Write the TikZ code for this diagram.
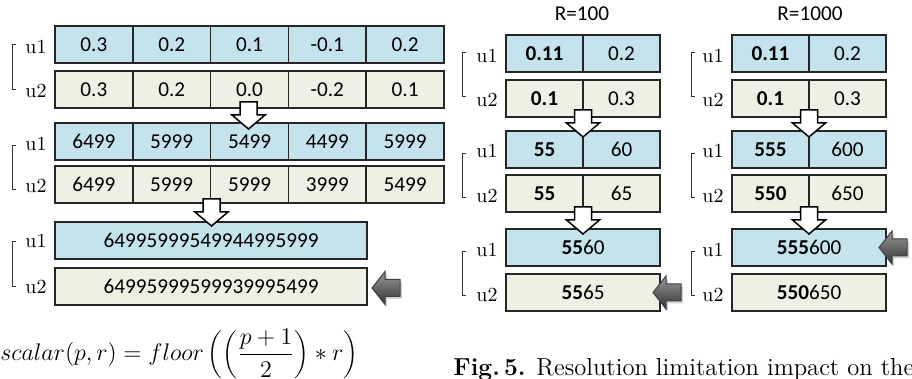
\documentclass[tikz,border=0pt]{standalone}
\usepackage{fontspec}
\newfontfamily\carl{Carlito}
\usetikzlibrary{calc}
\definecolor{cblue}{RGB}{197,227,236}
\definecolor{cbeige}{RGB}{237,241,228}
\tikzset{
  cell/.style={draw=black!85, line width=0.8pt, inner sep=0pt, outer sep=0pt,
    minimum height=18.5pt, font=\carl\fontsize{10.6}{12}\selectfont},
  cb/.style={cell, fill=cblue},
  cy/.style={cell, fill=cbeige},
  lab/.style={font=\fontsize{10}{11}\selectfont, inner sep=0pt, anchor=east},
  brk/.style={line width=0.5pt, draw=black!80},
  warrow/.pic={
    \draw[fill=white, draw=black, line width=0.75pt, line join=miter]
      (0,0) -- (-16.5,-14) -- (-8.5,-14) -- (-8.5,-27) -- (8.5,-27)
      -- (8.5,-14) -- (16.5,-14) -- cycle;
  },
  garrow/.pic={
    \fill[black!35, opacity=0.5, shift={(2,2.5)}]
      (0,0) -- (13,-16.5) -- (13,-8.5) -- (28,-8.5) -- (28,8.5)
      -- (13,8.5) -- (13,16.5) -- cycle;
    \draw[draw=black!75, line width=0.5pt, top color=black!40, bottom color=black!80]
      (0,0) -- (13,-16.5) -- (13,-8.5) -- (28,-8.5) -- (28,8.5)
      -- (13,8.5) -- (13,16.5) -- cycle;
  }
}
\begin{document}
\begin{tikzpicture}[x=0.5pt, y=-0.5pt]
\useasboundingbox (0,0) rectangle (912,379);

% ---------- left panel ----------
\foreach \v [count=\i] in {0.3,0.2,0.1,-0.1,0.2}
  \node[cb, minimum width=38.9pt] (a1\i) at ({55+77.8*(\i-0.5)},44.5) {\v};
\foreach \v [count=\i] in {0.3,0.2,0.0,-0.2,0.1}
  \node[cy, minimum width=38.9pt] (a2\i) at ({55+77.8*(\i-0.5)},89.5) {\v};
\foreach \v [count=\i] in {6499,5999,5499,4499,5999}
  \node[cb, minimum width=38.9pt] (a3\i) at ({55+77.8*(\i-0.5)},141.5) {\v};
\foreach \v [count=\i] in {6499,5999,5999,3999,5499}
  \node[cy, minimum width=38.9pt] (a4\i) at ({55+77.8*(\i-0.5)},184.5) {\v};
\node[cb, minimum width=156pt] (a5) at (211,240.5) {64995999549944995999};
\node[cy, minimum width=156pt] (a6) at (211,286.5) {64995999599939995499};

\node[lab] (la1) at (47,47) {u1};
\node[lab] (la2) at (47,91) {u2};
\node[lab] (la3) at (47,144) {u1};
\node[lab] (la4) at (47,186) {u2};
\node[lab] (la5) at (47,241) {u1};
\node[lab] (la6) at (47,287) {u2};
\draw[brk] (16,45) -- (12,45) -- (12,90) -- (16,90);
\draw[brk] (16,146) -- (12,146) -- (12,190) -- (16,190);
\draw[brk] (16,242) -- (12,242) -- (12,287) -- (16,287);

\coordinate (wa1) at (248.5,129);
\coordinate (wa2) at (211.5,226);
\pic at (wa1) {warrow};
\pic at (wa2) {warrow};
\coordinate (ga1) at (372,288);
\pic at (ga1) {garrow};

% ---------- right panel, R=100 ----------
\node[font=\carl\fontsize{10.6}{12}\selectfont, inner sep=0pt] (r100) at (582,14) {R=100};
\node[font=\carl\fontsize{10.6}{12}\selectfont, inner sep=0pt] (r1000) at (810,14) {R=1000};

\node[cb, minimum width=38.5pt] (b11) at (544.5,53.5) {\textbf{0.11}};
\node[cb, minimum width=38.5pt] (b12) at (621.5,53.5) {0.2};
\node[cy, minimum width=38.5pt] (b21) at (544.5,98.5) {\textbf{0.1}};
\node[cy, minimum width=38.5pt] (b22) at (621.5,98.5) {0.3};
\node[cb, minimum width=38.5pt] (b31) at (544.5,149.5) {\textbf{55}};
\node[cb, minimum width=38.5pt] (b32) at (621.5,149.5) {60};
\node[cy, minimum width=38.5pt] (b41) at (544.5,193.5) {\textbf{55}};
\node[cy, minimum width=38.5pt] (b42) at (621.5,193.5) {65};
\node[cb, minimum width=77pt] (b5) at (583,247.5) {\textbf{55}60};
\node[cy, minimum width=77pt] (b6) at (583,292.5) {\textbf{55}65};

\node[lab] (lb1) at (498,56) {u1};
\node[lab] (lb2) at (498,100) {u2};
\node[lab] (lb3) at (498,151) {u1};
\node[lab] (lb4) at (498,196) {u2};
\node[lab] (lb5) at (498,250) {u1};
\node[lab] (lb6) at (498,295) {u2};
\draw[brk] (466,53) -- (462,53) -- (462,97) -- (466,97);
\draw[brk] (466,154) -- (462,154) -- (462,198) -- (466,198);
\draw[brk] (466,252) -- (462,252) -- (462,296) -- (466,296);

\coordinate (wb1) at (583,137);
\coordinate (wb2) at (583,234);
\pic at (wb1) {warrow};
\pic at (wb2) {warrow};
\coordinate (gb1) at (653,292.5);
\pic at (gb1) {garrow};

% ---------- right panel, R=1000 ----------
\node[cb, minimum width=38.5pt] (c11) at (770.5,53.5) {\textbf{0.11}};
\node[cb, minimum width=38.5pt] (c12) at (847.5,53.5) {0.2};
\node[cy, minimum width=38.5pt] (c21) at (770.5,98.5) {\textbf{0.1}};
\node[cy, minimum width=38.5pt] (c22) at (847.5,98.5) {0.3};
\node[cb, minimum width=38.5pt] (c31) at (770.5,149.5) {\textbf{555}};
\node[cb, minimum width=38.5pt] (c32) at (847.5,149.5) {600};
\node[cy, minimum width=38.5pt] (c41) at (770.5,193.5) {\textbf{550}};
\node[cy, minimum width=38.5pt] (c42) at (847.5,193.5) {650};
\node[cb, minimum width=77pt] (c5) at (809,247.5) {\textbf{555}600};
\node[cy, minimum width=77pt] (c6) at (809,292.5) {\textbf{550}650};

\node[lab] (lc1) at (724,56) {u1};
\node[lab] (lc2) at (724,100) {u2};
\node[lab] (lc3) at (724,151) {u1};
\node[lab] (lc4) at (724,196) {u2};
\node[lab] (lc5) at (724,250) {u1};
\node[lab] (lc6) at (724,295) {u2};
\draw[brk] (695,53) -- (691,53) -- (691,97) -- (695,97);
\draw[brk] (695,154) -- (691,154) -- (691,198) -- (695,198);
\draw[brk] (695,252) -- (691,252) -- (691,296) -- (695,296);

\coordinate (wc1) at (809,137);
\coordinate (wc2) at (809,234);
\pic at (wc1) {warrow};
\pic at (wc2) {warrow};
\coordinate (gc1) at (879,247.5);
\pic at (gc1) {garrow};

% ---------- formula and caption ----------
\node[anchor=west, inner sep=0pt, font=\fontsize{12.7}{14}\selectfont] (eq) at (0,354)
  {$scalar(p,r) = floor\left(\left(\displaystyle\frac{p+1}{2}\right)*r\right)$};
\node[anchor=base west, inner sep=0pt, font=\fontsize{12.3}{14}\selectfont] (cap) at (453,376)
  {\textbf{Fig.\,5.} Resolution limitation impact on the};
\end{tikzpicture}
\end{document}
